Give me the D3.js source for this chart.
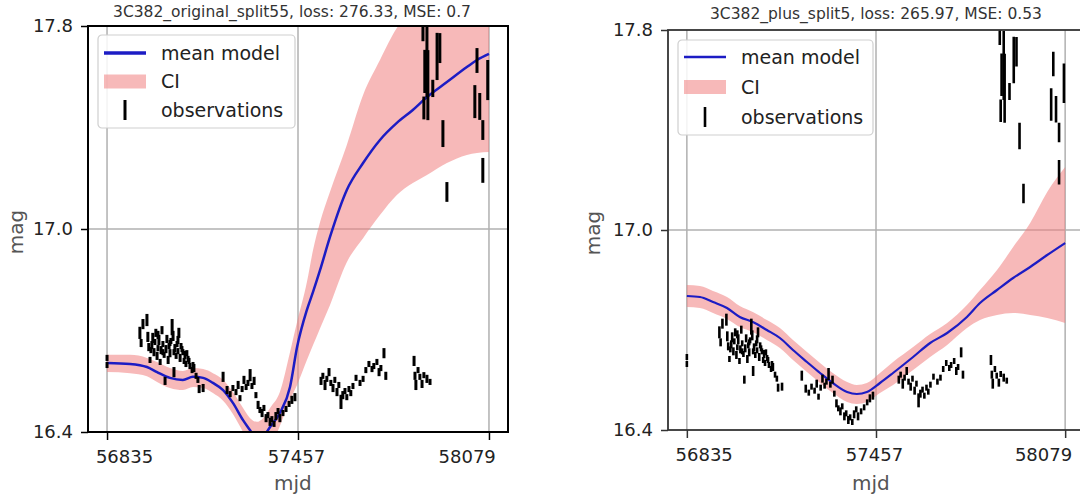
<!DOCTYPE html>
<html>
  <head>
    <script src="https://cdnjs.cloudflare.com/ajax/libs/d3/7.8.5/d3.min.js"></script>
    <style type="text/css">
      body {
        margin: 0;
        padding: 0;
        background: #fff;
      }
      svg {
        display: block;
        font-family: "DejaVu Sans", sans-serif;
      }
      .tick-label, .axis-label, .title {
        user-select: none;
      }
    </style>
  </head>
  <body>
    <svg id="chart" width="1080" height="503"></svg>
    <script type="text/javascript">
    // ticks and labels
    const mjdTicks = [56835, 57457, 58079];
    const mjdTickLabelAt = [56892, 57452, 58008];
    const mjdDomain = [56773, 58141];
    const magTicks = [16.4, 17.0, 17.8];
    const titles = [
      '3C382_original_split55, loss: 276.33, MSE: 0.7',
      '3C382_plus_split5, loss: 265.97, MSE: 0.53'
    ];
    const legendLabels = ['mean model', 'CI', 'observations'];

    // model: 3C382_original_split55
    const origMjd = [56835, 56910, 56965, 56998, 57040, 57082, 57115, 57148, 57180, 57213, 57245,
      57278, 57301, 57323, 57343, 57366, 57398, 57431, 57454, 57486, 57506, 57529, 57561, 57616,
      57669, 57724, 57779, 57831, 57877, 57942, 58007, 58040, 58079];
    const origMean = [16.604, 16.601, 16.592, 16.577, 16.560, 16.554, 16.563, 16.560, 16.545, 16.524,
      16.486, 16.435, 16.405, 16.375, 16.385, 16.415, 16.456, 16.533, 16.651, 16.761, 16.814, 16.879,
      16.976, 17.154, 17.260, 17.351, 17.418, 17.469, 17.520, 17.579, 17.638, 17.666, 17.690];
    const origHigh = [16.628, 16.628, 16.619, 16.607, 16.589, 16.580, 16.589, 16.586, 16.574, 16.554,
      16.518, 16.471, 16.441, 16.430, 16.441, 16.471, 16.518, 16.636, 16.725, 16.843, 16.938, 17.028,
      17.146, 17.331, 17.528, 17.666, 17.792, 17.863, 17.902, 17.922, 17.942, 17.942, 17.942];
    const origLow = [16.577, 16.574, 16.565, 16.548, 16.530, 16.524, 16.533, 16.530, 16.515, 16.492,
      16.453, 16.400, 16.362, 16.317, 16.332, 16.353, 16.418, 16.495, 16.539, 16.613, 16.657, 16.707,
      16.775, 16.902, 16.973, 17.055, 17.134, 17.181, 17.213, 17.260, 17.292, 17.300, 17.303];

    // model: 3C382_plus_split5
    const plusMjd = [56835, 56878, 56921, 56967, 57009, 57052, 57098, 57141, 57184, 57230, 57273,
      57315, 57362, 57394, 57427, 57470, 57513, 57579, 57635, 57691, 57756, 57799, 57855, 57908,
      57964, 58020, 58079];
    const plusMean = [16.802, 16.799, 16.784, 16.766, 16.739, 16.724, 16.700, 16.676, 16.640, 16.604,
      16.571, 16.541, 16.514, 16.508, 16.514, 16.541, 16.571, 16.619, 16.661, 16.691, 16.739, 16.781,
      16.820, 16.856, 16.889, 16.925, 16.961];
    const plusHigh = [16.835, 16.832, 16.817, 16.799, 16.772, 16.754, 16.730, 16.706, 16.670, 16.634,
      16.601, 16.571, 16.544, 16.535, 16.541, 16.571, 16.604, 16.649, 16.688, 16.721, 16.775, 16.820,
      16.880, 16.949, 17.028, 17.152, 17.252];
    const plusLow = [16.769, 16.766, 16.751, 16.733, 16.709, 16.694, 16.670, 16.646, 16.610, 16.574,
      16.541, 16.511, 16.484, 16.478, 16.484, 16.511, 16.535, 16.580, 16.619, 16.655, 16.706, 16.730,
      16.745, 16.751, 16.745, 16.736, 16.721];

    // observations: [mjd, mag, err]
    const observations = [
      [56835, 16.619, .009], [56835, 16.598, .009],
      [56942, 16.693, .018], [56946, 16.663, .012], [56952, 16.719, .015], [56965, 16.731, .018],
      [56968, 16.681, .015], [56971, 16.651, .012], [56975, 16.613, .009], [56978, 16.642, .009],
      [56981, 16.657, .012], [56984, 16.678, .015], [56988, 16.636, .012], [56991, 16.666, .009],
      [56994, 16.693, .012], [56998, 16.625, .012], [57001, 16.648, .009], [57001, 16.687, .012],
      [57004, 16.672, .015], [57008, 16.607, .009], [57011, 16.642, .012], [57014, 16.701, .012],
      [57017, 16.660, .009], [57017, 16.636, .009], [57021, 16.628, .009], [57024, 16.551, .012],
      [57027, 16.645, .012], [57030, 16.675, .012], [57034, 16.613, .012], [57037, 16.654, .009],
      [57040, 16.633, .012], [57040, 16.663, .009], [57043, 16.669, .009], [57047, 16.710, .024],
      [57050, 16.684, .015], [57053, 16.577, .015], [57053, 16.636, .009], [57056, 16.648, .012],
      [57060, 16.625, .009], [57063, 16.660, .009], [57066, 16.639, .009], [57066, 16.672, .012],
      [57069, 16.693, .015], [57073, 16.619, .012], [57076, 16.654, .009], [57079, 16.645, .009],
      [57082, 16.636, .009], [57086, 16.610, .009], [57089, 16.628, .012], [57092, 16.601, .009],
      [57095, 16.633, .009], [57099, 16.616, .009], [57102, 16.610, .009], [57105, 16.595, .009],
      [57112, 16.583, .009], [57115, 16.598, .009], [57118, 16.589, .012], [57125, 16.566, .009],
      [57131, 16.554, .009], [57135, 16.527, .012], [57148, 16.530, .012],
      [57213, 16.563, .015], [57226, 16.524, .012], [57236, 16.512, .009], [57245, 16.530, .009],
      [57255, 16.518, .009], [57262, 16.539, .012], [57268, 16.500, .009], [57275, 16.527, .009],
      [57281, 16.554, .012], [57288, 16.533, .009], [57294, 16.545, .009], [57301, 16.568, .018],
      [57307, 16.536, .009], [57314, 16.551, .012], [57320, 16.509, .009], [57327, 16.480, .012],
      [57333, 16.465, .009], [57340, 16.456, .012], [57346, 16.471, .009], [57353, 16.441, .012],
      [57359, 16.450, .009], [57366, 16.430, .012], [57372, 16.438, .009], [57379, 16.424, .009],
      [57385, 16.447, .012], [57392, 16.462, .009], [57398, 16.441, .012], [57408, 16.456, .009],
      [57418, 16.468, .009], [57428, 16.483, .009], [57437, 16.495, .012], [57447, 16.503, .012],
      [57532, 16.551, .012], [57538, 16.566, .009], [57545, 16.539, .015], [57551, 16.557, .009],
      [57558, 16.577, .012], [57564, 16.545, .009], [57571, 16.530, .012], [57577, 16.554, .009],
      [57584, 16.518, .012], [57590, 16.539, .009], [57597, 16.489, .021], [57603, 16.509, .012],
      [57610, 16.521, .009], [57616, 16.503, .009], [57623, 16.527, .009], [57629, 16.515, .009],
      [57636, 16.536, .009], [57646, 16.560, .009], [57659, 16.545, .009], [57669, 16.557, .009],
      [57678, 16.583, .009], [57688, 16.601, .009], [57698, 16.586, .009], [57704, 16.595, .009],
      [57714, 16.607, .009], [57721, 16.577, .012], [57727, 16.589, .009], [57737, 16.633, .015],
      [57743, 16.566, .012],
      [57835, 16.610, .015], [57838, 16.566, .012], [57841, 16.539, .015], [57848, 16.583, .009],
      [57854, 16.563, .009], [57861, 16.542, .012], [57867, 16.568, .009], [57877, 16.557, .012],
      [57887, 16.548, .009],
      [57864, 17.860, .120], [57867, 17.477, .045], [57870, 17.621, .085], [57877, 17.658, .138],
      [57880, 17.567, .138], [57896, 17.554, .034], [57910, 17.680, .093], [57919, 17.713, .059],
      [57929, 17.376, .053], [57942, 17.146, .039], [58033, 17.502, .065], [58040, 17.664, .049],
      [58049, 17.483, .053], [58059, 17.390, .039], [58059, 17.231, .049], [58075, 17.587, .079]
    ];

    const panels = [
      { id: 'orig', title: titles[0], mjd: origMjd, mean: origMean, high: origHigh, low: origLow,
        left: 88, right: 508, top: 26, bottom: 432, titleX: 292, titleY: 17,
        magLabelX: 23, spine: '#000', spineWidth: 2, lineWidth: 2.5, obsWidth: 3,
        legend: { x: 98, y: 35, w: 197, h: 93, row0: 18, gap: 28.5, lineWidth: 3.5 } },
      { id: 'plus', title: titles[1], mjd: plusMjd, mean: plusMean, high: plusHigh, low: plusLow,
        left: 668, right: 1084, top: 30, bottom: 430, titleX: 876, titleY: 19,
        magLabelX: 600, spine: '#333', spineWidth: 1.8, lineWidth: 2.2, obsWidth: 2.6,
        legend: { x: 678, y: 40, w: 195, h: 95, row0: 17, gap: 30, lineWidth: 2.5 } }
    ];

    const svg = d3.select('#chart');
    const blue = '#1c1cc4';
    const pink = '#f08080';

    panels.forEach(drawPanel);

    function drawPanel(p) {
      const g = svg.append('g').attr('class', p.id);
      const x = d3.scaleLinear().domain(mjdDomain).range([p.left, p.right]);
      // tick labels 16.4 / 17.0 / 17.8 sit at evenly spaced heights in the original
      const y = d3.scaleLinear().domain(magTicks).range([p.bottom, (p.top + p.bottom) / 2, p.top]);

      g.append('clipPath').attr('id', `clip-${p.id}`)
        .append('rect')
        .attr('x', p.left).attr('y', p.top)
        .attr('width', p.right - p.left).attr('height', p.bottom - p.top);

      // grid
      const grid = g.append('g').attr('stroke', '#b0b0b0').attr('stroke-width', 1.5);
      grid.selectAll('.vgrid').data(mjdTicks).enter().append('line')
        .attr('x1', d => x(d)).attr('x2', d => x(d))
        .attr('y1', p.top).attr('y2', p.bottom);
      grid.selectAll('.hgrid').data([17.0]).enter().append('line')
        .attr('x1', p.left).attr('x2', p.right)
        .attr('y1', d => y(d)).attr('y2', d => y(d));

      const plot = g.append('g').attr('clip-path', `url(#clip-${p.id})`);
      const idx = d3.range(p.mjd.length);

      const area = d3.area()
        .x(i => x(p.mjd[i]))
        .y0(i => y(p.low[i]))
        .y1(i => y(p.high[i]))
        .curve(d3.curveMonotoneX);
      plot.append('path').datum(idx)
        .attr('d', area)
        .attr('fill', pink)
        .attr('fill-opacity', 0.55);

      const line = d3.line()
        .x(i => x(p.mjd[i]))
        .y(i => y(p.mean[i]))
        .curve(d3.curveMonotoneX);
      plot.append('path').datum(idx)
        .attr('d', line)
        .attr('fill', 'none')
        .attr('stroke', blue)
        .attr('stroke-width', p.lineWidth);

      plot.selectAll('.obs').data(observations).enter().append('line')
        .attr('class', 'obs')
        .attr('x1', d => x(d[0])).attr('x2', d => x(d[0]))
        .attr('y1', d => y(d[1] - d[2])).attr('y2', d => y(d[1] + d[2]))
        .attr('stroke', '#000')
        .attr('stroke-width', p.obsWidth);

      // spines
      g.append('rect')
        .attr('x', p.left).attr('y', p.top)
        .attr('width', p.right - p.left).attr('height', p.bottom - p.top)
        .attr('fill', 'none')
        .attr('stroke', p.spine)
        .attr('stroke-width', p.spineWidth);

      // y axis
      const yAxis = g.append('g')
        .attr('transform', `translate(${p.left},0)`)
        .call(d3.axisLeft(y).tickValues(magTicks).tickFormat(d3.format('.1f')).tickSize(7).tickPadding(8));
      yAxis.select('.domain').remove();
      yAxis.selectAll('line').attr('stroke', p.spine).attr('stroke-width', 1.5);
      yAxis.selectAll('text')
        .attr('class', 'tick-label')
        .attr('fill', '#222')
        .style('font-size', '18px')
        .style('font-family', '"DejaVu Sans", sans-serif');

      // x axis: ticks at mjdTicks, labels where the original put them
      const xAxis = g.append('g')
        .attr('transform', `translate(0,${p.bottom})`)
        .call(d3.axisBottom(x).tickValues(mjdTicks).tickFormat('').tickSize(8));
      xAxis.select('.domain').remove();
      xAxis.selectAll('line').attr('stroke', p.spine).attr('stroke-width', 1.5);
      g.selectAll('.x-label').data(mjdTickLabelAt).enter().append('text')
        .attr('class', 'tick-label')
        .attr('x', d => x(d))
        .attr('y', p.bottom + 31)
        .attr('text-anchor', 'middle')
        .attr('fill', '#222')
        .style('font-size', '18px')
        .text((d, i) => mjdTicks[i]);

      // axis labels and title
      g.append('text')
        .attr('class', 'axis-label')
        .attr('x', x(57440))
        .attr('y', 490)
        .attr('text-anchor', 'middle')
        .attr('fill', '#555')
        .style('font-size', '20px')
        .text('mjd');
      g.append('text')
        .attr('class', 'axis-label')
        .attr('transform', `translate(${p.magLabelX},${(p.top + p.bottom) / 2 + 3}) rotate(-90)`)
        .attr('text-anchor', 'middle')
        .attr('fill', '#555')
        .style('font-size', '20px')
        .text('mag');
      g.append('text')
        .attr('class', 'title')
        .attr('x', p.titleX)
        .attr('y', p.titleY)
        .attr('text-anchor', 'middle')
        .attr('fill', '#333')
        .style('font-size', '15.5px')
        .text(p.title);

      // legend
      const L = p.legend;
      const lg = g.append('g').attr('transform', `translate(${L.x},${L.y})`);
      lg.append('rect')
        .attr('width', L.w).attr('height', L.h)
        .attr('rx', 4)
        .attr('fill', '#fff').attr('fill-opacity', 0.85)
        .attr('stroke', '#cfcfcf').attr('stroke-width', 1.2);
      const rows = lg.selectAll('.row').data(legendLabels).enter().append('g')
        .attr('transform', (d, i) => `translate(0,${L.row0 + i * L.gap})`);
      rows.append('text')
        .attr('x', 63)
        .attr('dy', '0.35em')
        .attr('fill', '#222')
        .style('font-size', '19px')
        .text(d => d);
      rows.filter((d, i) => i === 0).append('line')
        .attr('x1', 6).attr('x2', 48)
        .attr('stroke', blue).attr('stroke-width', L.lineWidth);
      rows.filter((d, i) => i === 1).append('rect')
        .attr('x', 6).attr('y', -7).attr('width', 42).attr('height', 14)
        .attr('fill', pink).attr('fill-opacity', 0.55);
      rows.filter((d, i) => i === 2).append('line')
        .attr('x1', 27).attr('x2', 27).attr('y1', -10).attr('y2', 10)
        .attr('stroke', '#000').attr('stroke-width', p.obsWidth);
    }
    </script>
  </body>
</html>
